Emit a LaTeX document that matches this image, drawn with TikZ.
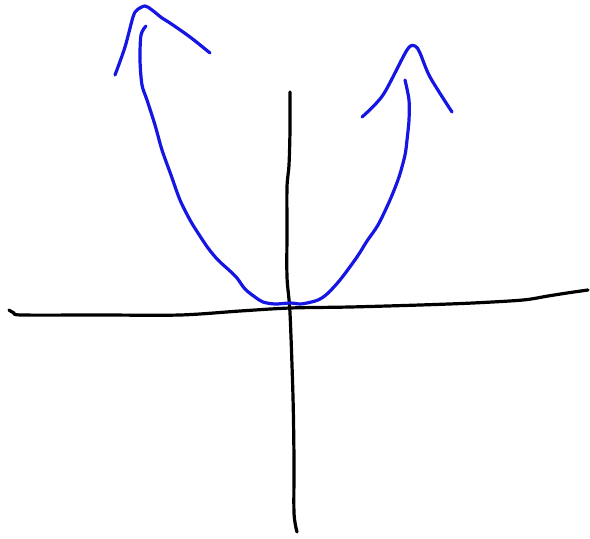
\documentclass[tikz,border=0pt]{standalone}
\definecolor{pen}{RGB}{22,22,228}
\tikzset{
  axis/.style={black, line width=3.2pt, line cap=round, line join=round},
  curve/.style={pen, line width=3.2pt, line cap=round, line join=round}
}
\begin{document}
\begin{tikzpicture}[x=1pt,y=-1pt]
\useasboundingbox (0,0) rectangle (590,539);
% horizontal axis
\draw[axis] plot[smooth, tension=0.5] coordinates {(9,310) (14,313) (22,315) (100,315) (180,315) (240,311) (290,308) (350,307) (420,305) (473,303) (523,300) (548,296) (567,293) (588,290)};
% vertical axis
\draw[axis] plot[smooth, tension=0.5] coordinates {(290,92) (290,130) (289,165) (287,187) (287,230) (287,277) (290,313) (293,397) (294,460) (294,513) (297,532)};
% parabola
\draw[curve] plot[smooth, tension=0.5] coordinates {(146,26) (141,35) (140,60) (142,85) (147,100) (155,125) (162,150) (171,175) (180,200) (190,220) (198,233) (208,248) (218,260) (230,271) (237,278) (245,289) (255,297) (263,302) (275,304) (290,303) (300,304) (307,303) (318,300) (327,294) (340,280) (357,257) (367,241) (378,225) (390,200) (399,177) (405,155) (407,140) (409,120) (409,100) (405,80)};
% left arrowhead
\draw[curve] plot[smooth, tension=0.5] coordinates {(115,75) (125,47) (133,17) (137,10) (145,6) (152,10) (162,18) (170,23) (190,37) (210,53)};
% right arrowhead
\draw[curve] plot[smooth, tension=0.5] coordinates {(362,117) (383,95) (407,50) (415,46) (420,53) (430,77) (452,112)};
\end{tikzpicture}
\end{document}
